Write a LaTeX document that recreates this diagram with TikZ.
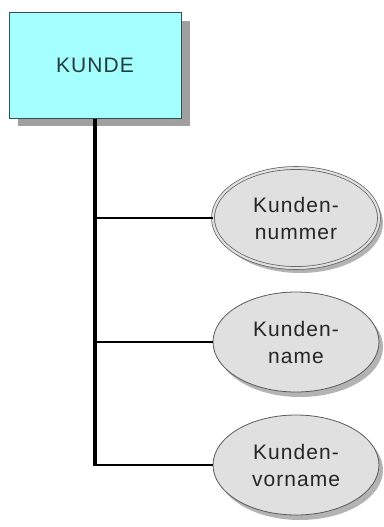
\documentclass[tikz,border=0pt]{standalone}
\usepackage{fontspec}
\setmainfont{Liberation Sans}
\usepackage{tikz}
\usetikzlibrary{shapes,positioning,shadows}
\definecolor{entitycyan}{RGB}{166,255,255}
\definecolor{entityline}{RGB}{50,80,80}
\definecolor{entitytext}{RGB}{35,60,60}
\definecolor{attrgray}{RGB}{224,224,224}
\definecolor{attrline}{RGB}{90,90,90}
\definecolor{shadowgray}{RGB}{160,160,160}

\begin{document}
\begin{tikzpicture}[x=1pt, y=1pt,
    entity/.style={rectangle, draw=entityline, line width=1pt, fill=entitycyan,
                   minimum width=172pt, minimum height=105pt, text=entitytext,
                   font=\addfontfeature{LetterSpace=5}\fontsize{21}{25}\selectfont,
                   drop shadow={shadow xshift=9pt, shadow yshift=-8pt, fill=shadowgray, opacity=1}},
    attribute/.style={ellipse, draw=attrline, line width=0.8pt, fill=attrgray,
                      minimum width=166pt, minimum height=100pt, inner sep=0pt,
                      align=center, text=black!85,
                      font=\addfontfeature{LetterSpace=5}\fontsize{21}{27}\selectfont,
                      drop shadow={shadow xshift=4pt, shadow yshift=-5pt, fill=shadowgray, opacity=0.8}},
    keyattr/.style={attribute, double=attrgray, double distance=2.2pt, line width=0.7pt},
    link/.style={draw=black, line width=2.5pt}
]
\useasboundingbox (0,0) rectangle (383,-527);

% Entity
\node[entity] (kunde) at (95,-65.5) {KUNDE};

% Attributes
\node[keyattr] (nummer) at (296,-218) {Kunden-\\nummer};
\node[attribute] (name) at (296,-342) {Kunden-\\name};
\node[attribute] (vorname) at (296,-465) {Kunden-\\vorname};

% Connections
\draw[link, line width=3.2pt] (kunde.south) -- (kunde.south |- vorname.west);
\draw[link] (kunde.south |- nummer.west) -- (nummer.west);
\draw[link] (kunde.south |- name.west) -- (name.west);
\draw[link] ([xshift=-1.6pt]kunde.south |- vorname.west) -- (vorname.west);

\end{tikzpicture}
\end{document}
